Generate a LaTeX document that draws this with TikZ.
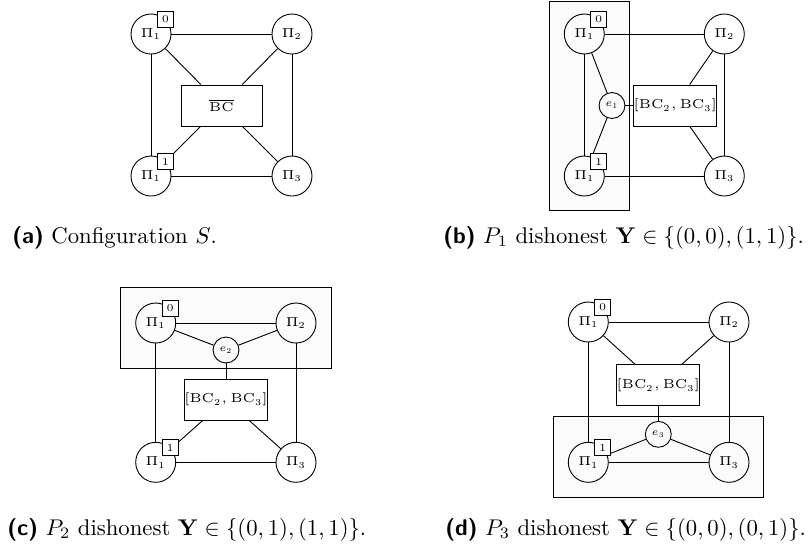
\RequirePackage{fix-cm}
\documentclass[tikz,border=0pt]{standalone}
\usepackage{amssymb}
\begin{document}
\begin{tikzpicture}[x=0.44pt,y=-0.44pt,
  party/.style={draw,circle,minimum size=17.6pt,inner sep=0pt,font=\fontsize{5.7}{7}\selectfont},
  bcbox/.style={draw,rectangle,minimum width=35.6pt,minimum height=18pt,inner sep=0pt,font=\fontsize{5.7}{7}\selectfont},
  evt/.style={draw,circle,minimum size=11.4pt,inner sep=0pt,font=\fontsize{4.6}{5.5}\selectfont},
  tag/.style={draw,fill=white,rectangle,minimum size=7pt,inner sep=0pt,font=\fontsize{4.6}{5}\selectfont},
  zone/.style={draw,fill=black!1.5},
  captxt/.style={anchor=base west,inner sep=0pt,font=\normalsize}]
\useasboundingbox (0,0) rectangle (810,545);

% ---------- (a) ----------
\node[party] (a1) at (151,34) {$\Pi_1$};
\node[party] (a2) at (292,34) {$\Pi_2$};
\node[party] (a4) at (151,176) {$\Pi_1$};
\node[party] (a3) at (292,176) {$\Pi_3$};
\node[bcbox] (abc) at (221.5,105.5) {$\overline{\mathrm{BC}}$};
\draw (a1) -- (a2);
\draw (a1) -- (a4);
\draw (a2) -- (a3);
\draw (a4) -- (a3);
\draw (a1) -- (abc);
\draw (a2) -- (abc);
\draw (a4) -- (abc);
\draw (a3) -- (abc);
\node[tag] (ta0) at (a1.north east) {0};
\node[tag] (ta1) at (a4.north east) {1};
\node[captxt] (capa) at (12,243) {\textsf{\bfseries (a)} Configuration $S$.};

% ---------- (b) ----------
\draw[zone] (549,1.5) rectangle (629.7,210.7);
\node[party] (b1) at (584.3,34) {$\Pi_1$};
\node[party] (b2) at (724.3,34) {$\Pi_2$};
\node[party] (b4) at (584.3,176) {$\Pi_1$};
\node[party] (b3) at (724.3,176) {$\Pi_3$};
\node[evt] (be) at (612,105.5) {$e_1$};
\node[bcbox] (bbc) at (675.3,105.5) {$[\mathrm{BC}_2,\mathrm{BC}_3]$};
\draw (b1) -- (b2);
\draw (b1) -- (b4);
\draw (b2) -- (b3);
\draw (b4) -- (b3);
\draw (b1) -- (be);
\draw (b4) -- (be);
\draw (be) -- (bbc);
\draw (bbc) -- (b2);
\draw (bbc) -- (b3);
\node[tag] (tb0) at (b1.north east) {0};
\node[tag] (tb1) at (b4.north east) {1};
\node[captxt] (capb) at (443,243) {\textsf{\bfseries (b)} $P_1$ dishonest $\mathbf{Y}\in\{(0,0),(1,1)\}$.};

% ---------- (c) ----------
\draw[zone] (120.7,287.3) rectangle (331.3,368.3);
\node[party] (c1) at (155.7,323) {$\Pi_1$};
\node[party] (c2) at (296,323) {$\Pi_2$};
\node[evt] (ce) at (226,350) {$e_2$};
\node[bcbox] (cbc) at (226,399.7) {$[\mathrm{BC}_2,\mathrm{BC}_3]$};
\node[party] (c4) at (155.7,462.3) {$\Pi_1$};
\node[party] (c3) at (296,462.3) {$\Pi_3$};
\draw (c1) -- (c2);
\draw (c1) -- (ce);
\draw (c2) -- (ce);
\draw (ce) -- (cbc);
\draw (c1) -- (c4);
\draw (c2) -- (c3);
\draw (cbc) -- (c4);
\draw (cbc) -- (c3);
\draw (c4) -- (c3);
\node[tag] (tc0) at (c1.north east) {0};
\node[tag] (tc1) at (c4.north east) {1};
\node[captxt] (capc) at (7,535) {\textsf{\bfseries (c)} $P_2$ dishonest $\mathbf{Y}\in\{(0,1),(1,1)\}$.};

% ---------- (d) ----------
\draw[zone] (553,416.3) rectangle (763.7,497.7);
\node[party] (d1) at (588.3,322) {$\Pi_1$};
\node[party] (d2) at (729,322) {$\Pi_2$};
\node[bcbox] (dbc) at (658.3,385.3) {$[\mathrm{BC}_2,\mathrm{BC}_3]$};
\node[evt] (de) at (658.3,434.3) {$e_3$};
\node[party] (d4) at (588.3,462.3) {$\Pi_1$};
\node[party] (d3) at (729,462.3) {$\Pi_3$};
\draw (d1) -- (d2);
\draw (d1) -- (d4);
\draw (d2) -- (d3);
\draw (d1) -- (dbc);
\draw (d2) -- (dbc);
\draw (dbc) -- (de);
\draw (de) -- (d4);
\draw (de) -- (d3);
\draw (d4) -- (d3);
\node[tag] (td0) at (d1.north east) {0};
\node[tag] (td1) at (d4.north east) {1};
\node[captxt] (capd) at (445,535) {\textsf{\bfseries (d)} $P_3$ dishonest $\mathbf{Y}\in\{(0,0),(0,1)\}$.};
\end{tikzpicture}
\end{document}
